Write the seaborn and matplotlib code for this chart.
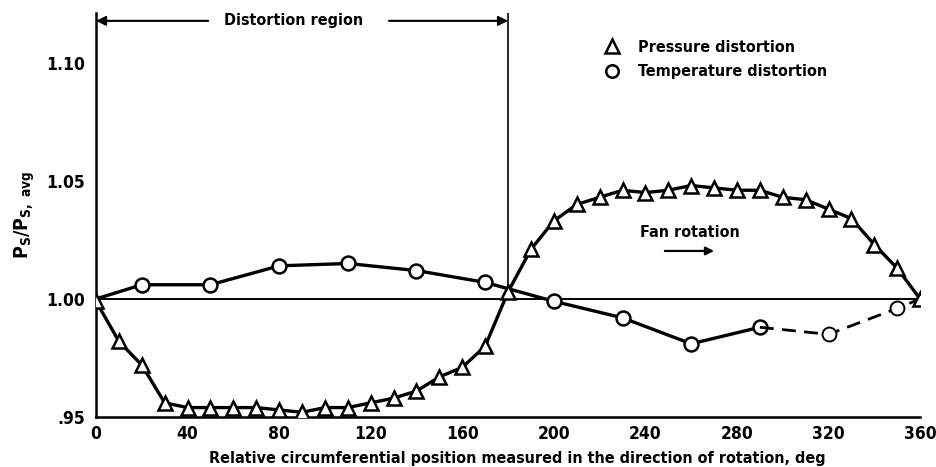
import matplotlib
matplotlib.use("Agg")
import matplotlib.pyplot as plt
from matplotlib.lines import Line2D
import seaborn as sns

# circumferential position, deg
angle_pressure = [0, 10, 20, 30, 40, 50, 60, 70, 80, 90, 100, 110, 120, 130, 140,
                  150, 160, 170, 180, 190, 200, 210, 220, 230, 240, 250, 260, 270,
                  280, 290, 300, 310, 320, 330, 340, 350, 360]
ps_pressure = [0.999, 0.982, 0.972, 0.956, 0.954, 0.954, 0.954, 0.954, 0.953, 0.952,
               0.954, 0.954, 0.956, 0.958, 0.961, 0.967, 0.971, 0.980, 1.003, 1.021,
               1.033, 1.040, 1.043, 1.046, 1.045, 1.046, 1.048, 1.047, 1.046, 1.046,
               1.043, 1.042, 1.038, 1.034, 1.023, 1.013, 1.000]

angle_temp = [0, 20, 50, 80, 110, 140, 170, 200, 230, 260, 290]
ps_temp = [1.000, 1.006, 1.006, 1.014, 1.015, 1.012, 1.007, 0.999, 0.992, 0.981, 0.988]
# faint (dashed) tail of the temperature curve
angle_temp_tail = [290, 320, 350, 360]
ps_temp_tail = [0.988, 0.985, 0.996, 1.000]

x_ticks = [0, 40, 80, 120, 160, 200, 240, 280, 320, 360]
y_ticks = [0.95, 1.00, 1.05, 1.10]
y_ticklabels = [".95", "1.00", "1.05", "1.10"]
region_end = 180

sns.set_theme(style="white")
plt.rcParams["font.family"] = ["DejaVu Sans"]
plt.rcParams["font.stretch"] = "condensed"
plt.rcParams["font.weight"] = "bold"
plt.rcParams["text.color"] = "black"
plt.rcParams["axes.labelcolor"] = "black"
plt.rcParams["mathtext.fontset"] = "dejavusans"

fig = plt.figure(figsize=(9.36, 4.67), dpi=100)
ax = fig.add_axes([0.1026, 0.107, 0.8804, 0.865])

ax.axhline(1.0, color="black", lw=1.4, zorder=1)
ax.vlines(region_end, 1.004, 1.121, color="black", lw=1.2, zorder=1)

sns.lineplot(x=angle_pressure, y=ps_pressure, ax=ax, color="black", lw=2.4,
             marker="^", markersize=10, markerfacecolor="white",
             markeredgecolor="black", markeredgewidth=1.8, zorder=3)
sns.lineplot(x=angle_temp, y=ps_temp, ax=ax, color="black", lw=2.4,
             marker="o", markersize=10, markerfacecolor="white",
             markeredgecolor="black", markeredgewidth=1.8,
             markevery=list(range(1, len(angle_temp))), zorder=2)
sns.lineplot(x=angle_temp_tail, y=ps_temp_tail, ax=ax, color="black", lw=2.0,
             linestyle=(0, (5, 3)), marker="o", markersize=10,
             markerfacecolor="white", markeredgecolor="black",
             markeredgewidth=1.4, markevery=[1, 2], zorder=2)

ax.set_xlim(0, 360)
ax.set_ylim(0.95, 1.121)
ax.set_xticks(x_ticks)
ax.set_yticks(y_ticks)
ax.set_yticklabels(y_ticklabels)
ax.tick_params(axis="both", direction="in", length=15, width=1.5, colors="black",
               labelsize=12.5)
ax.tick_params(axis="x", pad=6)
ax.tick_params(axis="y", pad=8)
for side in ["top", "right"]:
    ax.spines[side].set_visible(False)
for side in ["left", "bottom"]:
    ax.spines[side].set_color("black")
    ax.spines[side].set_linewidth(1.8)

ax.set_xlabel("Relative circumferential position measured in the direction of rotation, deg",
              fontsize=11.5, fontweight="bold")
ax.xaxis.set_label_coords(0.511, -0.085)
ax.set_ylabel(r"$\mathrm{P_S/P_{S,\ avg}}$", fontsize=14)
ax.yaxis.set_label_coords(-0.072, 0.5)

# distortion region marker
ax.text(86.5, 1.1177, "Distortion region", ha="center", va="center",
        fontsize=11.5, fontweight="bold")
ax.annotate("", xy=(0, 1.1177), xytext=(49, 1.1177),
            arrowprops=dict(arrowstyle="-|>", color="black", lw=1.5,
                            mutation_scale=14, shrinkA=0, shrinkB=0))
ax.annotate("", xy=(region_end, 1.1177), xytext=(128, 1.1177),
            arrowprops=dict(arrowstyle="-|>", color="black", lw=1.5,
                            mutation_scale=14, shrinkA=0, shrinkB=0))

# fan rotation note
ax.text(259.5, 1.028, "Fan rotation", ha="center", va="center",
        fontsize=11.5, fontweight="bold")
ax.annotate("", xy=(270, 1.0203), xytext=(248.5, 1.0203),
            arrowprops=dict(arrowstyle="-|>", color="black", lw=1.6,
                            mutation_scale=12, shrinkA=0, shrinkB=0))

handles = [
    Line2D([], [], ls="none", marker="^", markersize=10, markerfacecolor="white",
           markeredgecolor="black", markeredgewidth=1.8),
    Line2D([], [], ls="none", marker="o", markersize=9, markerfacecolor="white",
           markeredgecolor="black", markeredgewidth=1.8),
]
ax.legend(handles, ["Pressure distortion", "Temperature distortion"],
          loc="upper left", bbox_to_anchor=(0.603, 0.962), frameon=False,
          fontsize=11.5, handlelength=1.0, handletextpad=1.1, labelspacing=0.6,
          borderpad=0.2)

fig.savefig("out.png", dpi=100)
